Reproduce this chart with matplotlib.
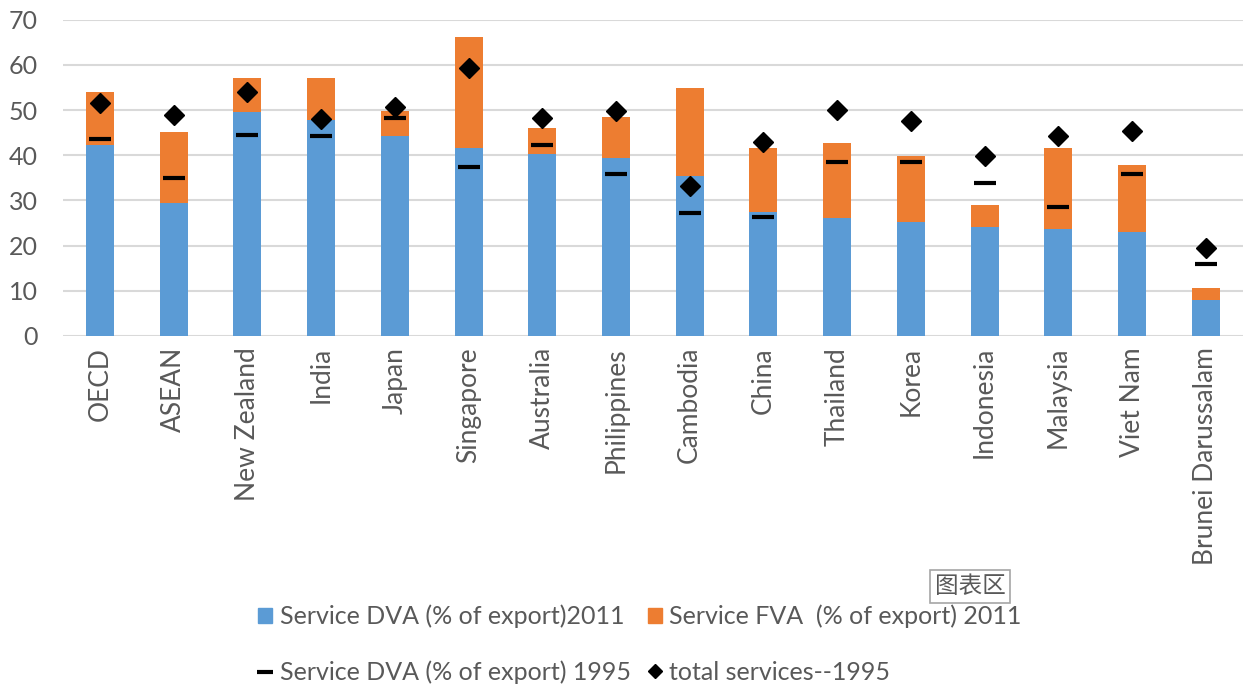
import matplotlib.pyplot as plt
import numpy as np
from matplotlib.lines import Line2D
from matplotlib.patches import Patch

countries = ['OECD', 'ASEAN', 'New Zealand', 'India', 'Japan', 'Singapore',
             'Australia', 'Philippines', 'Cambodia', 'China', 'Thailand',
             'Korea', 'Indonesia', 'Malaysia', 'Viet Nam', 'Brunei Darussalam']
dva_2011 = [42.3, 29.4, 49.5, 47.9, 44.3, 41.7, 40.3, 39.4, 35.3, 27.5,
            26.1, 25.3, 24.0, 23.7, 23.1, 8.0]
total_2011 = [54.1, 45.1, 57.2, 57.2, 49.8, 66.2, 46.0, 48.4, 54.9, 41.7,
              42.8, 39.9, 28.9, 41.7, 37.9, 10.6]
fva_2011 = [t - d for t, d in zip(total_2011, dva_2011)]
dva_1995 = [43.6, 34.9, 44.5, 44.2, 48.2, 37.5, 42.2, 35.8, 27.2, 26.3,
            38.4, 38.4, 33.8, 28.6, 35.8, 15.9]
total_1995 = [51.5, 49.0, 54.1, 48.1, 50.8, 59.3, 48.2, 49.8, 33.3, 42.9,
              50.1, 47.5, 39.9, 44.2, 45.4, 19.4]

blue = '#5B9BD5'
orange = '#ED7D31'
grey = '#595959'
plt.rcParams['font.family'] = ['Lato', 'DejaVu Sans']

fig = plt.figure(figsize=(12.43, 6.84), dpi=100)
ax = fig.add_axes([0.0507, 0.509, 0.949, 0.462])

x = np.arange(len(countries))
ax.bar(x, dva_2011, width=0.38, color=blue, zorder=2)
ax.bar(x, fva_2011, width=0.38, bottom=dva_2011, color=orange, zorder=2)
ax.plot(x, dva_1995, linestyle='none', marker='_', markersize=16,
        markeredgewidth=3, color='black', zorder=3)
ax.plot(x, total_1995, linestyle='none', marker='D', markersize=10,
        color='black', zorder=4)

ax.set_xlim(-0.5, len(countries) - 0.5)
ax.set_ylim(0, 70)
ax.set_yticks(range(0, 71, 10))
ax.yaxis.grid(True, color='#D9D9D9', linewidth=1.5, zorder=0)
ax.set_axisbelow(True)
for s in ax.spines.values():
    s.set_visible(False)
ax.set_xticks(x)
ax.set_xticklabels(countries, rotation=90, fontsize=19, color=grey)
ax.tick_params(axis='y', labelsize=18, labelcolor=grey, length=0, pad=18)
ax.tick_params(axis='x', length=0, pad=8)

handles = [Patch(color=blue),
           Line2D([], [], linestyle='none', marker='_', markersize=12,
                  markeredgewidth=3, color='black'),
           Patch(color=orange),
           Line2D([], [], linestyle='none', marker='D', markersize=7,
                  color='black')]
labels = ['Service DVA (% of export)2011', 'Service DVA (% of export) 1995',
          'Service FVA  (% of export) 2011', 'total services--1995']
leg = fig.legend(handles, labels, ncol=2, loc='center',
                 bbox_to_anchor=(0.515, 0.058), frameon=False, fontsize=18,
                 labelcolor=grey, handlelength=0.55, handleheight=0.55,
                 handletextpad=0.3, columnspacing=0.7, labelspacing=1.3)

fig.text(0.752, 0.133, '图表区', fontsize=17, color=grey,
         family=['Noto Sans CJK SC', 'DejaVu Sans'],
         bbox=dict(boxstyle='square,pad=0.2', fc='white', ec='#A6A6A6', lw=1.2))

fig.savefig('out.png', dpi=100)
